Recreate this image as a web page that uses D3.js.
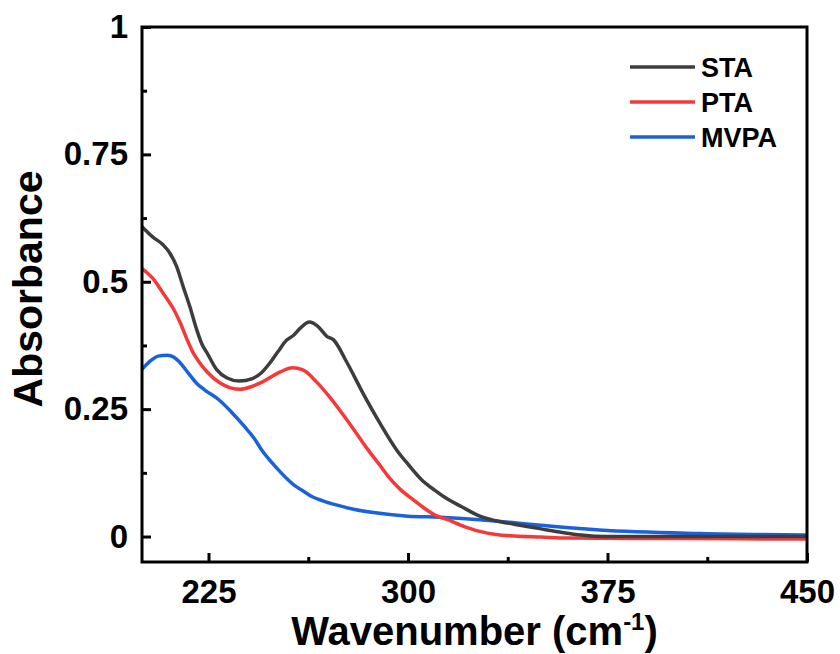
<!DOCTYPE html>
<html>
<head>
<meta charset="utf-8">
<script src="https://cdn.jsdelivr.net/npm/d3@7"></script>
<style>
  body { margin: 0; background: #fff; }
  text { font-family: "Liberation Sans", Arial, sans-serif; font-weight: bold; }
</style>
</head>
<body>
<div id="canvas"></div>
<script>
"use strict"

/* data */
let staX = [200, 204, 208, 210.5, 213, 215.5, 218, 220.5, 222.5, 224.5, 228, 232, 236.5, 241.5, 245, 248, 251, 254.5, 257, 259.5, 263, 266, 269.5, 272, 277, 283, 289.5, 296, 300, 305, 310, 315, 320, 327, 333, 340, 350, 358, 365, 375, 400, 450];
let staY = [0.608, 0.588, 0.572, 0.556, 0.530, 0.490, 0.451, 0.407, 0.378, 0.360, 0.328, 0.311, 0.305, 0.310, 0.322, 0.340, 0.362, 0.386, 0.395, 0.409, 0.421, 0.413, 0.393, 0.386, 0.342, 0.282, 0.222, 0.168, 0.142, 0.112, 0.091, 0.073, 0.059, 0.040, 0.031, 0.024, 0.015, 0.008, 0.003, 0.000, 0.000, 0.000];

let ptaX = [200, 204, 208, 212, 214.5, 217, 219, 221, 224.5, 229.5, 237, 241, 245.5, 252, 256.5, 260.5, 265.5, 270.5, 277, 282, 285, 290, 293, 297, 302, 306, 311, 315, 320, 327, 333, 340, 350, 360, 400, 450];
let ptaY = [0.526, 0.507, 0.477, 0.445, 0.418, 0.386, 0.363, 0.346, 0.323, 0.301, 0.289, 0.294, 0.304, 0.323, 0.331, 0.327, 0.304, 0.274, 0.229, 0.192, 0.170, 0.136, 0.115, 0.093, 0.072, 0.056, 0.040, 0.033, 0.022, 0.010, 0.004, 0.001, -0.001, -0.003, -0.004, -0.005];

let mvpaX = [200, 203.5, 206, 209.5, 212, 214, 217.5, 220.5, 223.5, 229, 233.5, 238.5, 242, 245, 249, 252.5, 255, 256.5, 258, 261, 264, 268, 273, 280, 287, 300, 312, 327, 340, 350, 372, 410, 450];
let mvpaY = [0.328, 0.346, 0.354, 0.356, 0.352, 0.343, 0.320, 0.301, 0.288, 0.268, 0.245, 0.216, 0.194, 0.170, 0.144, 0.124, 0.111, 0.104, 0.098, 0.088, 0.078, 0.070, 0.062, 0.053, 0.047, 0.040, 0.038, 0.033, 0.027, 0.022, 0.013, 0.006, 0.003];

let seriesNames = ["STA", "PTA", "MVPA"];
let seriesColors = ["#3d3d3d", "#f73838", "#1a62dc"];

let xTicks = [225, 300, 375, 450];
let xMinorTicks = [262.5, 337.5, 412.5];
let yTicks = [0, 0.25, 0.5, 0.75, 1];
let yTickLabels = ["0", "0.25", "0.5", "0.75", "1"];
let yMinorTicks = [0.125, 0.375, 0.625, 0.875];

let drawing = d3.select("#canvas")
  .append("svg")
  .attr("width", 840)
  .attr("height", 654);

drawing.append("rect")
  .attr("width", 840)
  .attr("height", 654)
  .attr("fill", "white");

let plotLeft = 142, plotRight = 807, plotTop = 27, plotBottom = 562;

let x = d3.scaleLinear().domain([200, 450]).range([plotLeft, plotRight]);
let y = d3.scaleLinear().domain([-0.05, 1]).range([plotBottom, plotTop]);

/* curves */
let series = [
  staX.map((v, i) => [v, staY[i]]),
  ptaX.map((v, i) => [v, ptaY[i]]),
  mvpaX.map((v, i) => [v, mvpaY[i]])
];

let line = d3.line()
  .x(d => x(d[0]))
  .y(d => y(d[1]))
  .curve(d3.curveMonotoneX);

drawing.append("clipPath").attr("id", "plotclip")
  .append("rect")
  .attr("x", plotLeft).attr("y", plotTop)
  .attr("width", plotRight - plotLeft).attr("height", plotBottom - plotTop);

// draw blue first so gray/red sit on top like the original
[2, 1, 0].forEach(i => {
  drawing.append("path")
    .datum(series[i])
    .attr("d", line)
    .attr("fill", "none")
    .attr("stroke", seriesColors[i])
    .attr("stroke-width", 3.5)
    .attr("stroke-linejoin", "round")
    .attr("clip-path", "url(#plotclip)");
});

/* axes */
drawing.append("g")
  .attr("transform", `translate(0,${plotBottom})`)
  .call(d3.axisBottom(x).tickValues(xTicks).tickSize(-9).tickSizeOuter(0).tickPadding(18));

drawing.append("g")
  .attr("transform", `translate(0,${plotBottom})`)
  .call(d3.axisBottom(x).tickValues(xMinorTicks).tickSize(-5).tickSizeOuter(0).tickFormat(""));

drawing.append("g")
  .attr("transform", `translate(${plotLeft},0)`)
  .call(d3.axisLeft(y).tickValues(yTicks).tickSize(-9).tickSizeOuter(0).tickPadding(14)
    .tickFormat((d, i) => yTickLabels[i]));

drawing.append("g")
  .attr("transform", `translate(${plotLeft},0)`)
  .call(d3.axisLeft(y).tickValues(yMinorTicks).tickSize(-5).tickSizeOuter(0).tickFormat(""));

drawing.selectAll(".domain").remove();
drawing.selectAll(".tick line").attr("stroke", "black").attr("stroke-width", 3);
drawing.selectAll(".tick text")
  .attr("fill", "black")
  .style("font-size", "33px")
  .style("font-family", "'Liberation Sans', Arial, sans-serif")
  .style("font-weight", "bold");

/* frame */
let border = drawing.append("rect")
  .attr("x", plotLeft)
  .attr("y", plotTop)
  .attr("width", plotRight - plotLeft)
  .attr("height", plotBottom - plotTop)
  .attr("fill", "none")
  .attr("stroke", "black")
  .attr("stroke-width", 3);

/* axis titles */
let xTitle = drawing.append("text")
  .attr("x", (plotLeft + plotRight) / 2)
  .attr("y", 645)
  .attr("text-anchor", "middle")
  .style("font-size", "40px");
xTitle.append("tspan").text("Wavenumber (cm");
xTitle.append("tspan").attr("dy", -15).style("font-size", "24px").text("-1");
xTitle.append("tspan").attr("dy", 15).text(")");

drawing.append("text")
  .attr("transform", "translate(42,289) rotate(-90)")
  .attr("text-anchor", "middle")
  .style("font-size", "41px")
  .text("Absorbance");

/* legend */
let legend = drawing.append("g");
seriesNames.forEach((name, i) => {
  let ly = 67 + i * 35;
  legend.append("line")
    .attr("x1", 630).attr("x2", 695)
    .attr("y1", ly).attr("y2", ly)
    .attr("stroke", seriesColors[i])
    .attr("stroke-width", 3.5);
  legend.append("text")
    .attr("x", 701)
    .attr("y", ly + 10)
    .style("font-size", "27px")
    .text(name);
});
</script>
</body>
</html>
